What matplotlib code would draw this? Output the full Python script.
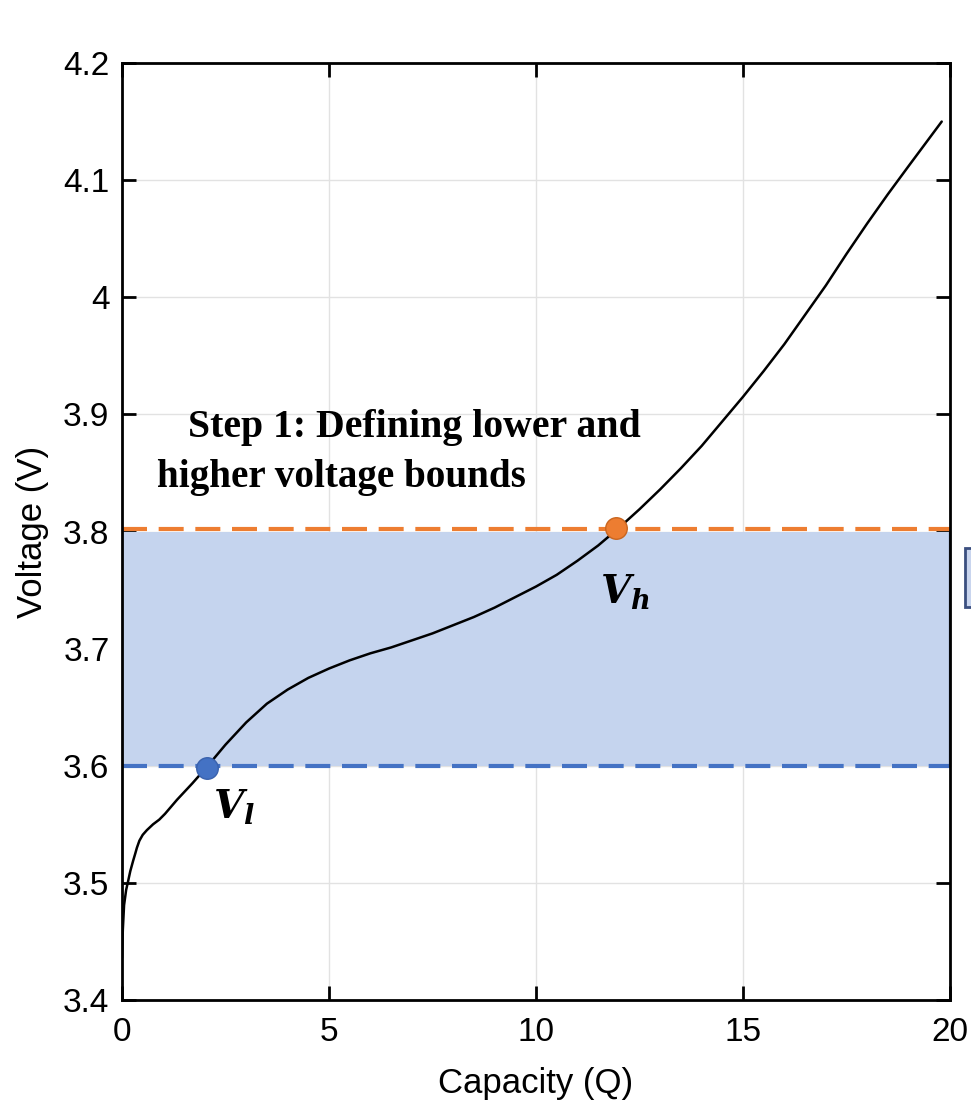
import matplotlib
matplotlib.use("Agg")
import matplotlib.pyplot as plt
from matplotlib.patches import Rectangle

plt.rcParams["font.family"] = ["Liberation Sans", "DejaVu Sans"]
plt.rcParams["mathtext.fontset"] = "custom"
plt.rcParams["mathtext.it"] = "DejaVu Serif:italic:bold"
plt.rcParams["mathtext.rm"] = "DejaVu Serif:bold"

# Charge curve: capacity vs. voltage
capacity = [0.0, 0.02, 0.05, 0.1, 0.145, 0.2, 0.27, 0.32, 0.36, 0.42, 0.5, 0.6,
            0.75, 0.9, 1.04, 1.33, 1.7, 2.05, 2.5, 3.0, 3.5, 4.0, 4.5, 5.0, 5.5,
            6.0, 6.5, 7.0, 7.5, 8.0, 8.5, 9.0, 9.5, 10.0, 10.5, 11.0, 11.5, 12.0,
            12.5, 13.0, 13.5, 14.0, 14.5, 15.0, 15.5, 16.0, 16.5, 17.0, 17.5,
            18.0, 18.5, 19.0, 19.4, 19.8]
voltage = [3.436, 3.460, 3.481, 3.494, 3.501, 3.510, 3.519, 3.525, 3.530, 3.536, 3.541, 3.545,
           3.550, 3.554, 3.559, 3.571, 3.585, 3.599, 3.618, 3.637, 3.653, 3.665, 3.675, 3.683, 3.690,
           3.696, 3.701, 3.707, 3.713, 3.720, 3.727, 3.735, 3.744, 3.753, 3.763, 3.775, 3.788, 3.803,
           3.819, 3.836, 3.854, 3.873, 3.894, 3.915, 3.937, 3.960, 3.985, 4.010, 4.037,
           4.063, 4.088, 4.112, 4.131, 4.150]

# Voltage bounds and the points where the curve meets them
v_low, v_high = 3.600, 3.802
q_low, q_low_v = 2.05, 3.598
q_high, q_high_v = 11.93, 3.803

x_ticks = [0, 5, 10, 15, 20]
y_ticks = [3.4, 3.5, 3.6, 3.7, 3.8, 3.9, 4.0, 4.1, 4.2]
y_tick_labels = ["3.4", "3.5", "3.6", "3.7", "3.8", "3.9", "4", "4.1", "4.2"]

fig = plt.figure(figsize=(9.71, 11.07), dpi=100)
ax = fig.add_axes([122 / 971, 1 - 1000 / 1107, (950 - 122) / 971, (1000 - 63) / 1107])

ax.set_xlim(0, 20)
ax.set_ylim(3.4, 4.2)
ax.set_xticks(x_ticks)
ax.set_yticks(y_ticks)
ax.set_yticklabels(y_tick_labels)
ax.grid(True, color="#e2e2e2", lw=1.0)
ax.set_axisbelow(True)

for s in ax.spines.values():
    s.set_linewidth(2.0)
    s.set_zorder(6)
ax.tick_params(direction="in", length=10, width=2.0, top=True, right=True,
               labelsize=24, pad=9)
ax.tick_params(axis="x", pad=12)

# Shaded band between the bounds
ax.axhspan(3.6, 3.8, color="#c5d4ee", zorder=1, lw=0)
ax.plot([20, 20], [3.6, 3.8], color="#34466a", lw=1.6, zorder=5, clip_on=False)

ax.axhline(v_high, color="#ed7d31", lw=3, dashes=(6, 2.8), zorder=3)
ax.axhline(v_low, color="#4472c4", lw=3, dashes=(6, 2.8), zorder=3)

ax.plot(capacity, voltage, color="black", lw=1.8, zorder=4,
        solid_joinstyle="round", solid_capstyle="round")

ax.plot([q_low], [q_low_v], "o", ms=15.5, color="#4472c4", mec="#3a62ad", mew=1, zorder=5)
ax.plot([q_high], [q_high_v], "o", ms=15.5, color="#ed7d31", mec="#c9651f", mew=1, zorder=5)

ax.text(2.2, 3.555, r"$V_l$", fontsize=28, va="baseline", ha="left", zorder=6)
ax.text(11.55, 3.739, r"$V_h$", fontsize=28, va="baseline", ha="left", zorder=6)

serif = ["Liberation Serif", "DejaVu Serif"]
ax.text(1.59, 3.8806, "Step 1: Defining lower and", family=serif, fontweight="bold",
        fontsize=28.6, va="baseline", ha="left", zorder=6)
ax.text(0.845, 3.838, "higher voltage bounds", family=serif, fontweight="bold",
        fontsize=28.2, va="baseline", ha="left", zorder=6)

ax.set_xlabel("Capacity (Q)", fontsize=25, labelpad=14)
ax.set_ylabel("Voltage (V)", fontsize=25, labelpad=10)

# Side panel box running off the right edge
fig.patches.append(Rectangle((965 / 971, 1 - 607 / 1107), 0.2, 59 / 1107,
                             transform=fig.transFigure, facecolor="#c9d5ee",
                             edgecolor="#3b4f80", lw=2))

fig.savefig("out.png", dpi=100)
